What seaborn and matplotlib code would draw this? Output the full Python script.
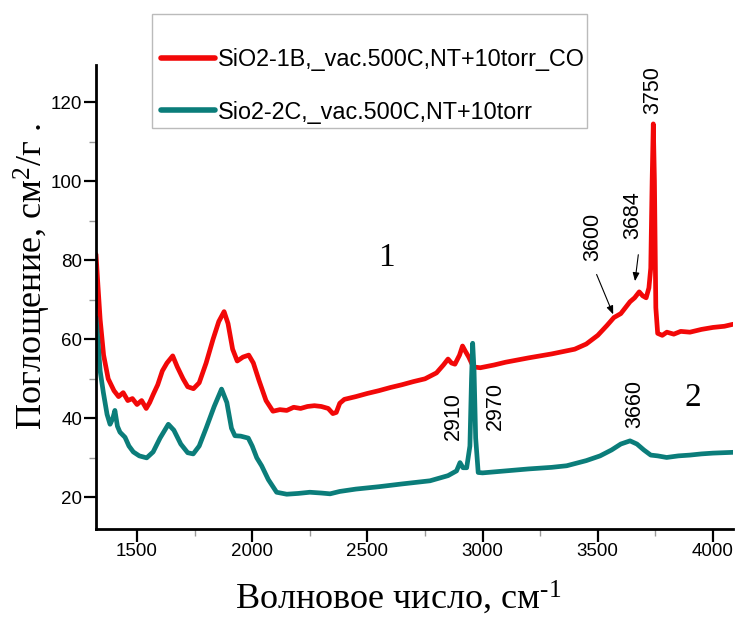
import numpy as np
import pandas as pd
import matplotlib
matplotlib.use("Agg")
import matplotlib.pyplot as plt
from matplotlib.patches import Rectangle
from matplotlib.ticker import MultipleLocator
import seaborn as sns

# ---------------- data ----------------
red_x = [1322, 1330, 1340, 1355, 1375, 1400, 1420, 1440, 1460, 1480, 1500, 1520,
         1540, 1555, 1570, 1590, 1610, 1630, 1655, 1675, 1700, 1720, 1745, 1770,
         1800, 1830, 1855, 1878, 1895, 1915, 1935, 1960, 1985, 2005, 2030, 2060,
         2090, 2120, 2150, 2180, 2210, 2240, 2270, 2300, 2330, 2350, 2365, 2380,
         2400, 2450, 2500, 2550, 2600, 2650, 2700, 2750, 2800, 2830, 2850, 2865,
         2880, 2900, 2913, 2925, 2940, 2960, 2990, 3050, 3100, 3200, 3300, 3400,
         3450, 3500, 3540, 3570, 3600, 3620, 3640, 3660, 3680, 3695, 3710, 3722,
         3730, 3736, 3741, 3746, 3752, 3760, 3780, 3800, 3830, 3860, 3900, 3950,
         4000, 4050, 4087]
red_y = [81.5, 74, 65, 56, 50, 47, 45.5, 46.5, 44.5, 45, 43.5, 44.5,
         42.5, 44, 46, 48.5, 52, 54, 55.8, 53, 50, 48, 47.5, 49,
         54, 60, 64.5, 67, 64, 57.5, 54.5, 55.5, 56, 54, 49.5, 44.5,
         41.8, 42.2, 42, 42.8, 42.5, 43, 43.2, 43, 42.5, 41.2, 41.5, 43.8,
         44.8, 45.5, 46.3, 47, 47.8, 48.5, 49.3, 50, 51.5, 53.5, 55, 54,
         53.7, 56, 58.3, 57, 55.5, 53, 52.8, 53.5, 54.2, 55.3, 56.3, 57.5,
         58.8, 61, 63.5, 65.5, 66.5, 68, 69.5, 70.5, 72, 71, 70.5, 73,
         78, 100, 114.5, 100, 68, 61.5, 61, 61.8, 61.3, 62, 61.8, 62.5,
         63, 63.3, 63.8]

teal_x = [1322, 1330, 1340, 1354, 1370, 1383, 1395, 1404, 1415, 1426, 1448, 1465,
          1484, 1510, 1542, 1570, 1600, 1636, 1660, 1690, 1720, 1744, 1770, 1800,
          1835, 1867, 1890, 1910, 1925, 1950, 1983, 2000, 2020, 2041, 2070, 2106,
          2150, 2200, 2250, 2300, 2338, 2380, 2450, 2550, 2650, 2772, 2850, 2887,
          2902, 2915, 2931, 2945, 2952, 2957, 2963, 2970, 2981, 3000, 3100, 3200,
          3300, 3365, 3450, 3510, 3560, 3600, 3640, 3670, 3700, 3730, 3760, 3799,
          3850, 3900, 3950, 4000, 4087]
teal_y = [65.5, 60, 52, 46.5, 41, 38.5, 40, 42, 38, 36.5, 35.2, 33,
          31.5, 30.5, 30, 31.5, 35, 38.5, 37, 33.5, 31.3, 31, 33, 37.5,
          43, 47.4, 44, 37.5, 35.6, 35.5, 35, 33, 30, 28, 24.5, 21.3,
          20.8, 21, 21.3, 21.1, 20.9, 21.5, 22.1, 22.7, 23.4, 24.2, 25.5, 26.7,
          28.8, 27.5, 27.5, 33, 50, 59, 52, 35, 26.3, 26.2, 26.7, 27.2,
          27.6, 28, 29.3, 30.5, 32, 33.5, 34.3, 33.5, 32, 30.7, 30.5, 30.1,
          30.5, 30.7, 31, 31.2, 31.4]

series_names = ["SiO2-1B,_vac.500C,NT+10torr_CO", "Sio2-2C,_vac.500C,NT+10torr"]
series_colors = ["#f20808", "#0b7d7a"]

x_ticks = [1500, 2000, 2500, 3000, 3500, 4000]
y_ticks = [20, 40, 60, 80, 100, 120]

peak_labels = ["3750", "3684", "3600", "2910", "2970", "3660"]
peak_label_x = [3740, 3653, 3479, 2873, 3054, 3661]
peak_label_y = [123.1, 91.3, 86.0, 40.6, 43.1, 43.6]

curve_labels = ["1", "2"]
curve_label_x = [2584, 3912]
curve_label_y = [80.6, 45.3]

x_label = r"Волновое число, см$^{\text{-1}}$"
y_label = r"Поглощение, см$^{\text{2}}$/г ."

# ---------------- build frame ----------------
df = pd.concat([
    pd.DataFrame({"x": red_x, "y": red_y, "series": series_names[0]}),
    pd.DataFrame({"x": teal_x, "y": teal_y, "series": series_names[1]}),
], ignore_index=True)

sns.set_style("ticks")
plt.rcParams["font.family"] = ["Liberation Sans", "DejaVu Sans"]
plt.rcParams["mathtext.fontset"] = "custom"
plt.rcParams["mathtext.rm"] = "Liberation Serif"
plt.rcParams["mathtext.it"] = "Liberation Serif:italic"
plt.rcParams["mathtext.bf"] = "Liberation Serif:bold"
plt.rcParams["mathtext.default"] = "rm"
plt.rcParams["text.color"] = "black"
plt.rcParams["xtick.color"] = "black"
plt.rcParams["ytick.color"] = "black"

W, H = 735, 617
fig = plt.figure(figsize=(W / 100, H / 100), dpi=100)
ax = fig.add_axes([96 / W, 1 - 529 / H, (733 - 96) / W, (529 - 65) / H])

sns.lineplot(data=df, x="x", y="y", hue="series", palette=series_colors,
             hue_order=series_names, estimator=None, sort=False,
             linewidth=3.4, ax=ax, legend=True)

ax.set_xlim(1322, 4087)
ax.set_ylim(12, 129.4)
sns.despine(ax=ax)
for s in ["left", "bottom"]:
    ax.spines[s].set_linewidth(2.0)
    ax.spines[s].set_color("black")

ax.set_xticks(x_ticks)
ax.set_yticks(y_ticks)
ax.xaxis.set_minor_locator(MultipleLocator(250))
ax.yaxis.set_minor_locator(MultipleLocator(10))
ax.tick_params(which="major", direction="out", length=9, width=1.6,
               color="black", labelcolor="black", pad=1, labelsize=13.5)
ax.tick_params(which="minor", direction="out", length=5, width=1.0,
               color="#999999")

ax.set_xlabel("")
ax.set_ylabel("")

serif = ["Liberation Serif", "DejaVu Serif"]
fig.text(398 / W, 1 - 598 / H, x_label, family=serif, fontsize=26,
         ha="center", va="center", color="black")
fig.text(32 / W, 1 - 277 / H, y_label, family=serif, fontsize=26,
         ha="center", va="center", rotation=90, color="black")

for t, xx, yy in zip(curve_labels, curve_label_x, curve_label_y):
    ax.text(xx, yy, t, family=serif, fontsize=24, ha="center", va="center",
            color="black")

for t, xx, yy in zip(peak_labels, peak_label_x, peak_label_y):
    ax.text(xx, yy, t, fontsize=15.5, ha="center", va="center", rotation=90,
            color="black")

arrow_kw = dict(arrowstyle="-|>,head_length=0.5,head_width=0.2", color="black",
                lw=0.8, shrinkA=0, shrinkB=0)
ax.annotate("", xy=(3567, 66.3), xytext=(3495, 76.4), arrowprops=arrow_kw)
ax.annotate("", xy=(3661.6, 74.7), xytext=(3676, 81.4), arrowprops=arrow_kw)

# legend
handles, labels = ax.get_legend_handles_labels()
leg = ax.legend(handles, labels, loc="center left",
                bbox_to_anchor=(161 / W, 1 - 86 / H),
                bbox_transform=fig.transFigure, frameon=False,
                fontsize=16.8, handlelength=2.3, handletextpad=0.15,
                labelspacing=1.25, borderpad=0, borderaxespad=0)
for line in leg.get_lines():
    line.set_linewidth(4)
fig.patches.append(Rectangle((152 / W, 1 - 128 / H), (587 - 152) / W,
                             (128 - 14) / H, transform=fig.transFigure,
                             fill=False, edgecolor="#bbbbbb", linewidth=1.0))

fig.savefig("out.png", dpi=100)
